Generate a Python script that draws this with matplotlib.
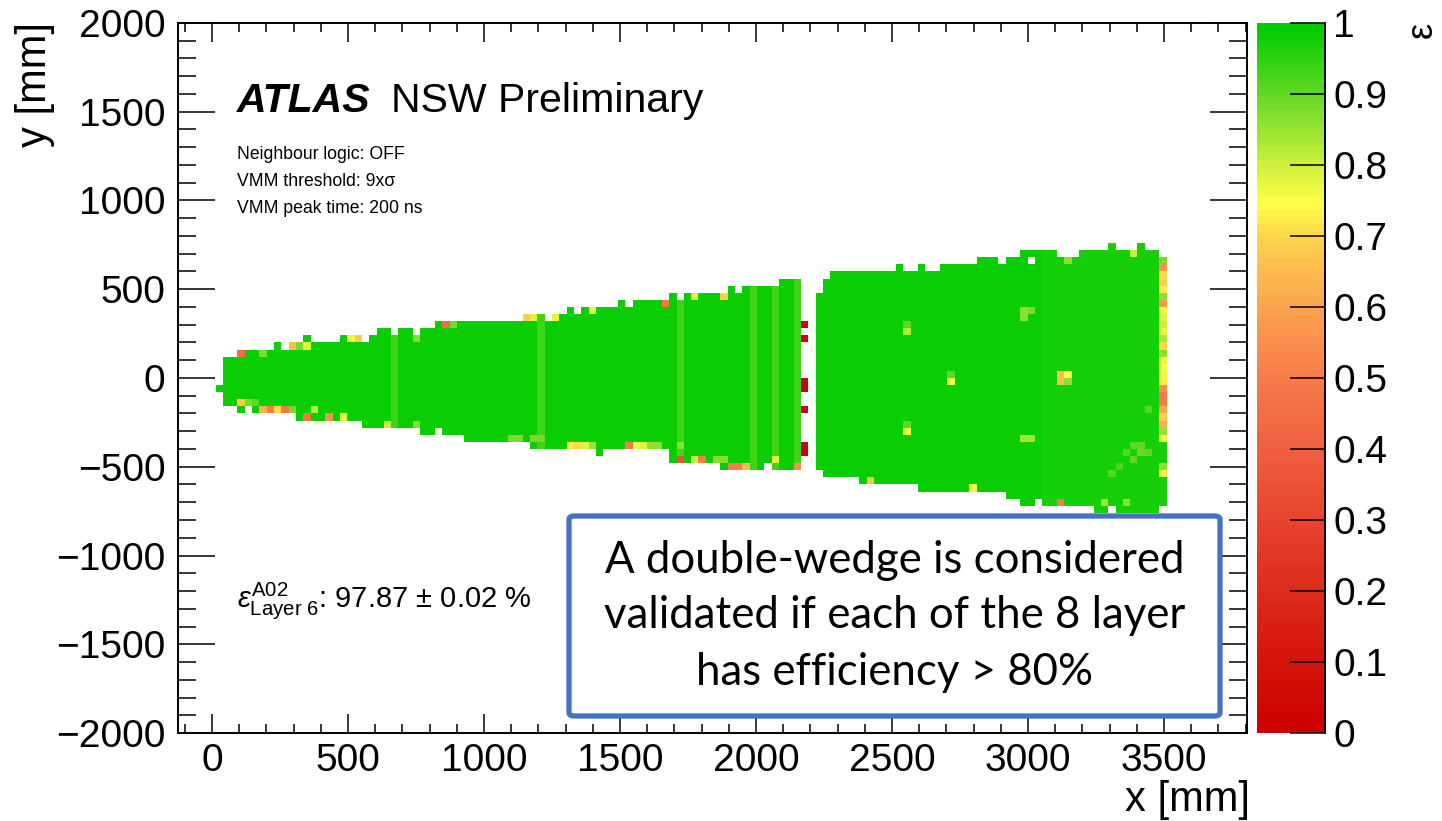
import numpy as np
import matplotlib

matplotlib.use("Agg")
import matplotlib.pyplot as plt  # noqa: E402
from matplotlib.colors import LinearSegmentedColormap  # noqa: E402
from matplotlib.patches import FancyBboxPatch  # noqa: E402
from matplotlib.ticker import MultipleLocator  # noqa: E402

W, H = 1442, 821

# --- binning of the efficiency map (mm) ---
X_FIRST_EDGE = 13.0
X_BIN = 26.9
N_XBINS = 130
Y_EDGES = np.arange(-800, 801, 40)

# --- outline of the small wedge (step starts in x, edge in y) ---
SMALL_X_RANGE = (13, 2168)
SMALL_TOP_X = [13, 40, 94, 237, 264, 290, 347, 374, 458, 544, 571, 599, 658, 685, 740, 767, 824,
               1184, 1218, 1243, 1304, 1329, 1353, 1494, 1522, 1549, 1690, 1720, 1745, 1890, 1914,
               1941, 2082]
SMALL_TOP_Y = [-40, 120, 160, 200, 160, 200, 240, 200, 240, 200, 240, 280, 240, 280, 240, 280, 320,
               360, 320, 360, 400, 360, 400, 440, 400, 440, 480, 440, 480, 520, 480, 520, 560]
SMALL_BOT_X = [13, 40, 94, 124, 152, 320, 544, 767, 824, 851, 936, 1157, 1414, 1440, 1690, 1880,
               2026, 2051]
SMALL_BOT_Y = [-80, -160, -200, -160, -200, -240, -280, -320, -280, -320, -360, -400, -440, -400,
               -480, -520, -480, -520]

# --- outline of the large wedge ---
LARGE_X_RANGE = (2221, 3510)
LARGE_TOP_X = [2221, 2250, 2278, 2502, 2529, 2585, 2613, 2667, 2809, 2891, 2919, 2977, 3118, 3197,
               3287, 3314, 3393, 3424, 3479]
LARGE_TOP_Y = [480, 560, 600, 640, 600, 640, 600, 640, 680, 640, 680, 720, 680, 720, 760, 720, 760,
               720, 680]
LARGE_BOT_X = [2221, 2250, 2389, 2585, 2919, 2977, 3032, 3062, 3252, 3287, 3314, 3479]
LARGE_BOT_Y = [-520, -560, -600, -640, -680, -720, -680, -720, -760, -720, -760, -720]

# --- typical efficiency in x regions ---
BASE_X = [13, 3050]
BASE_EFF = [0.985, 0.975]

# columns with a slightly lower efficiency
STRIPE_X = [668, 1200, 1731, 1985, 2063, 2152]
STRIPE_EFF = 0.935

# dead column between the two wedges
GAP_COL_X = 2178
GAP_ROWS_Y = [300, 220, -20, -60, -180, -380, -420]
GAP_EFF = 0.02

# outermost column of the large wedge
EDGE_COL_X = 3496
EDGE_COL_Y = [660, 620, 580, 540, 500, 460, 420, 380, 340, 300, 260, 220, 180, 140, 100, 60, 20,
              -20, -60, -100, -140, -180, -220, -260, -300, -340, -500, -540]
EDGE_COL_EFF = [0.88, 0.55, 0.70, 0.68, 0.72, 0.86, 0.58, 0.76, 0.78, 0.80, 0.77, 0.83, 0.70, 0.86,
                0.77, 0.75, 0.76, 0.72, 0.55, 0.48, 0.50, 0.60, 0.68, 0.62, 0.85, 0.76, 0.86, 0.77]

# single cells with lower efficiency
SPOT_X = [107, 177, 303, 330, 360, 498, 528, 753, 864, 890, 1143, 1170, 1277, 1387, 1677, 1788,
          1870,
          94, 121, 148, 177, 204, 231, 258, 285, 382, 360, 417, 471, 641, 753,
          1104, 1131, 1185, 1212, 1320, 1347, 1374, 1400, 1537, 1563, 1590, 1618, 1645, 1731,
          1731, 1786, 1814, 1868, 1895, 2063, 1900, 1927, 1953, 2152,
          2568, 2568, 2708, 2708, 2568, 2568, 2990, 2990, 3017, 3131, 3158, 3131, 3158, 2990, 3017,
          2430, 2795, 3130, 3268, 3350, 3158, 3380,
          3400, 3427, 3427, 3454, 3373, 3400, 3454, 3346, 3320]
SPOT_Y = [140, 140, 180, 180, 180, 220, 220, 220, 300, 300, 340, 340, 340, 380, 420, 460,
          460,
          -140, -140, -140, -180, -180, -180, -180, -180, -180, -220, -220, -220, -260, -260,
          -340, -340, -340, -340, -380, -380, -380, -380, -380, -380, -380, -380, -380, -380,
          -460, -460, -460, -460, -460, -460, -500, -500, -500, -500,
          260, 300, -20, 20, -300, -260, 340, 380, 380, 20, 20, -20, -20, -340, -340,
          -580, -620, -700, -700, -700, 660, 700,
          -380, -380, -420, -420, -420, -460, -180, -500, -540]
SPOT_EFF = [0.45, 0.88, 0.65, 0.88, 0.78, 0.76, 0.68, 0.87, 0.45, 0.88, 0.68, 0.78, 0.77, 0.77,
            0.48, 0.78, 0.68,
            0.68, 0.88, 0.90, 0.62, 0.50, 0.70, 0.48, 0.88, 0.82, 0.48, 0.55, 0.77, 0.80, 0.87,
            0.88, 0.88, 0.88, 0.88, 0.72, 0.70, 0.78, 0.85, 0.50, 0.76, 0.78, 0.86, 0.86, 0.86,
            0.35, 0.80, 0.50, 0.87, 0.87, 0.78, 0.50, 0.50, 0.65, 0.55,
            0.82, 0.90, 0.76, 0.90, 0.76, 0.90, 0.86, 0.86, 0.88, 0.65, 0.74, 0.66, 0.86, 0.84,
            0.84,
            0.66, 0.76, 0.50, 0.84, 0.86, 0.86, 0.80,
            0.90, 0.90, 0.89, 0.90, 0.91, 0.90, 0.91, 0.92, 0.91]

# empty cells inside the outline
HOLE_X = [3012]
HOLE_Y = [660]

# palette (efficiency -> colour)
PAL_POS = [0.0, 0.1, 0.2, 0.3, 0.4, 0.5, 0.6, 0.7, 0.75, 0.8, 0.9, 1.0]
PAL_COL = ["#cc0000", "#d41408", "#dc2c1c", "#e6432c", "#ef5f3e", "#f77a4b", "#fba24f", "#fdd24c",
           "#ffff48", "#d5f03e", "#6ad926", "#00cc00"]

Z_TICKS = [0.0, 0.1, 0.2, 0.3, 0.4, 0.5, 0.6, 0.7, 0.8, 0.9, 1.0]
Z_LABELS = ["0", "0.1", "0.2", "0.3", "0.4", "0.5", "0.6", "0.7", "0.8", "0.9", "1"]

BOX_LINES = ["A double-wedge is considered", "validated if each of the 8 layer",
             "has efficiency > 80%"]

plt.rcParams.update({
    "font.family": "Liberation Sans",
    "mathtext.fontset": "custom",
    "mathtext.rm": "Liberation Sans",
    "mathtext.it": "Liberation Sans:italic",
    "mathtext.bf": "Liberation Sans:bold",
})


def fx(px):
    return px / W


def fy(py):
    return 1 - py / H


def step_value(xs, ys, x):
    i = np.searchsorted(xs, x, side="right") - 1
    return ys[max(i, 0)]


def build_map():
    xe = X_FIRST_EDGE + X_BIN * np.arange(N_XBINS + 1)
    xc = 0.5 * (xe[:-1] + xe[1:])
    yc = 0.5 * (Y_EDGES[:-1] + Y_EDGES[1:])
    z = np.full((len(yc), len(xc)), np.nan)
    wedges = [(SMALL_X_RANGE, SMALL_TOP_X, SMALL_TOP_Y, SMALL_BOT_X, SMALL_BOT_Y),
              (LARGE_X_RANGE, LARGE_TOP_X, LARGE_TOP_Y, LARGE_BOT_X, LARGE_BOT_Y)]
    for (lo, hi), tx, ty, bx, by in wedges:
        for i, cx in enumerate(xc):
            if not (lo <= cx < hi):
                continue
            top = step_value(tx, ty, cx)
            bot = step_value(bx, by, cx)
            rows = (yc > bot) & (yc < top)
            z[rows, i] = step_value(BASE_X, BASE_EFF, cx)

    def col(x):
        return int(np.clip(np.searchsorted(xe, x) - 1, 0, len(xc) - 1))

    def row(y):
        return int(np.clip(np.searchsorted(Y_EDGES, y) - 1, 0, len(yc) - 1))

    for sx in STRIPE_X:
        c = col(sx)
        filled = ~np.isnan(z[:, c])
        z[filled, c] = STRIPE_EFF
    for gy in GAP_ROWS_Y:
        z[row(gy), col(GAP_COL_X)] = GAP_EFF
    for ey, ev in zip(EDGE_COL_Y, EDGE_COL_EFF):
        z[row(ey), col(EDGE_COL_X)] = ev
    for sx, sy, sv in zip(SPOT_X, SPOT_Y, SPOT_EFF):
        z[row(sy), col(sx)] = sv
    for hx, hy in zip(HOLE_X, HOLE_Y):
        z[row(hy), col(hx)] = np.nan
    return xe, Y_EDGES, np.ma.masked_invalid(z)


fig = plt.figure(figsize=(W / 100, H / 100), dpi=100)
ax = fig.add_axes([fx(178), fy(733), fx(1247) - fx(178), fy(23) - fy(733)])
cax = fig.add_axes([fx(1257), fy(733), fx(1325) - fx(1257), fy(23) - fy(733)])

cmap = LinearSegmentedColormap.from_list("eff", list(zip(PAL_POS, PAL_COL)), N=100)
cmap.set_bad((1, 1, 1, 0))

xe, ye, z = build_map()
mesh = ax.pcolormesh(xe, ye, z, cmap=cmap, vmin=0, vmax=1, linewidth=0, antialiased=False)

ax.set_xlim(-125, 3805)
ax.set_ylim(-2000, 2000)
ax.xaxis.set_major_locator(MultipleLocator(500))
ax.xaxis.set_minor_locator(MultipleLocator(100))
ax.yaxis.set_major_locator(MultipleLocator(500))
ax.yaxis.set_minor_locator(MultipleLocator(100))
ax.tick_params(axis="both", which="both", direction="in", top=True, right=True,
               labelsize=28, width=1.1, color="black")
ax.tick_params(axis="x", which="major", length=13.7, pad=7)
ax.tick_params(axis="x", which="minor", length=6.8)
ax.tick_params(axis="y", which="major", length=26.6, pad=9)
ax.tick_params(axis="y", which="minor", length=13)
for s in ax.spines.values():
    s.set_linewidth(1.4)

cb = fig.colorbar(mesh, cax=cax, ticks=Z_TICKS)
cb.set_ticklabels(Z_LABELS)
cb.outline.set_visible(False)
cb.solids.set_edgecolor("face")
cax.tick_params(direction="in", length=25, width=1.1, labelsize=28, pad=6)
cax.plot([1, 1], [0, 1], transform=cax.transAxes, color="black", lw=1.4, clip_on=False)

# axis titles
fig.text(fx(1250), fy(811), "x [mm]", ha="right", va="baseline", fontsize=30)
fig.text(fx(35), fy(22), "y [mm]", ha="center", va="top", rotation=90, fontsize=30)
fig.text(fx(1422), fy(22), "\u03b5", ha="center", va="top", rotation=90, fontsize=26)

# ATLAS label
renderer = fig.canvas.get_renderer()
t1 = fig.text(fx(237), fy(112), "ATLAS", fontsize=29.5, fontweight="bold", fontstyle="italic",
              va="baseline")
bb = t1.get_window_extent(renderer)
fig.text(bb.x1 / W + fx(20), fy(112), "NSW Preliminary", fontsize=29.5, va="baseline")

for py, txt in zip([159, 186, 213],
                   ["Neighbour logic: OFF", "VMM threshold: 9x\u03c3", "VMM peak time: 200 ns"]):
    fig.text(fx(237), fy(py), txt, fontsize=12.7, va="baseline")

fig.text(fx(237), fy(607), r"$\varepsilon^{\rm A02}_{\rm Layer\ 6}$: 97.87 $\pm$ 0.02 %",
         fontsize=21, va="baseline")

# callout box
box = FancyBboxPatch((fx(569), fy(716)), fx(1220) - fx(569), fy(516) - fy(716),
                     boxstyle="round,pad=0,rounding_size=0.004", transform=fig.transFigure,
                     facecolor="white", edgecolor="#4472c4", linewidth=3.8, zorder=5)
fig.patches.append(box)
for py, line in zip([573, 628, 685], BOX_LINES):
    fig.text(fx(894.5), fy(py), line, ha="center", va="baseline", fontsize=31.5,
             family="Lato", zorder=6)

fig.savefig("out.png", dpi=100, facecolor="white")
